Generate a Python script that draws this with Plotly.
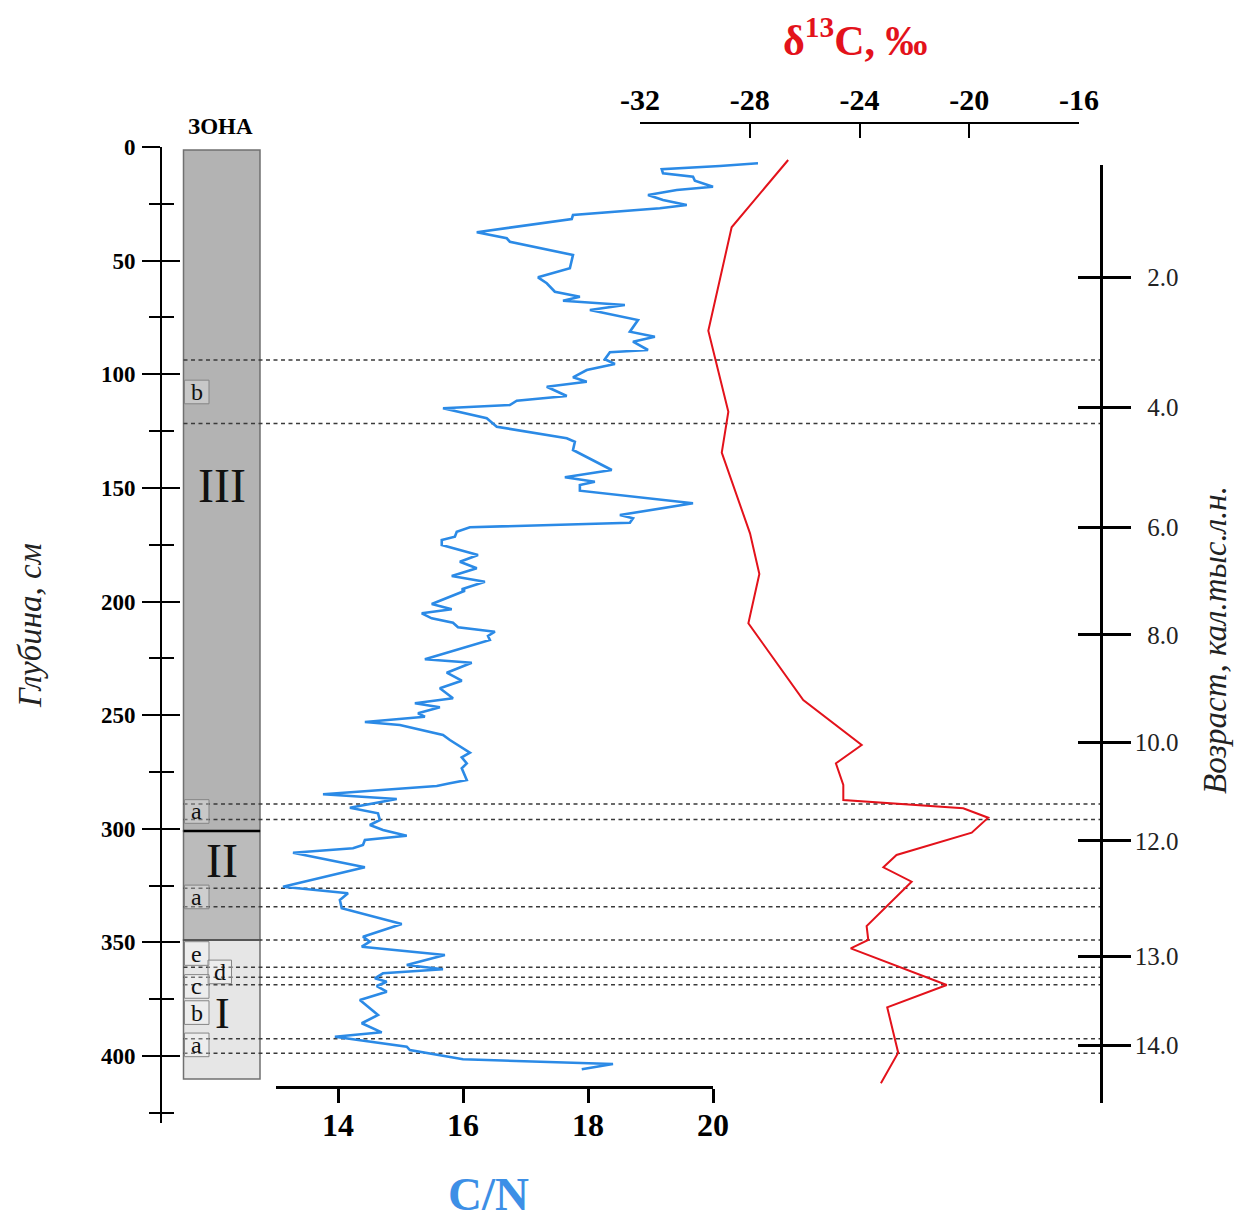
import plotly.graph_objects as go

W, H = 1247, 1220
SERIF = "Liberation Serif"

# ---------------- data ----------------
cn_depth = [7.17, 8.36, 9.81, 11.57, 13.07, 14.83, 17.47, 18.92, 21.12, 23.32, 25.52, 26.97,
            29.92, 31.68, 37.54, 40.18, 41.67, 47.52, 53.38, 57.34, 59.98, 63.67, 65.88, 67.64,
            69.53, 71.73, 76.13, 81.28, 83.48, 85.68, 89.33, 90.34, 93.42, 95.49, 98.13, 101.34,
            103.28, 105.48, 109.57, 111.64, 113.53, 114.98, 119.38, 123.08, 128.18, 129.68, 133.33,
            142.13, 145.35, 147.28, 148.73, 151.24, 156.79, 161.94, 163.39, 165.32, 167.35, 169.29,
            171.49, 172.94, 175.14, 179.54, 182.49, 185.39, 188.78, 191.29, 194.63, 195.25, 201.1,
            203.43, 205.19, 207.39, 209.33, 211.35, 213.29, 215.18, 216.94, 225.44, 226.93, 231.33,
            234.85, 238.2, 242.6, 244.8, 246.56, 249.2, 250.69, 253.03, 254.35, 258.75, 260.95,
            266.53, 268.56, 271.2, 273.4, 278.55, 280.0, 281.19, 284.84, 286.91, 290.74, 293.2,
            296.15, 298.35, 300.55, 303.06, 304.95, 307.15, 308.6, 310.54, 316.97, 325.5, 328.4,
            331.35, 335.0, 341.91, 347.5, 349.7, 351.9, 355.56, 359.96, 361.85, 363.61, 365.81,
            367.3, 369.2, 371.7, 375.36, 381.96, 385.6, 389.58, 391.5, 395.9, 397.4, 401.45,
            403.5, 405.85]
cn_value = [20.72, 20.11, 19.18, 19.20, 19.68, 19.71, 20.00, 19.42, 18.96, 19.20, 19.58, 19.15,
            17.76, 17.74, 16.22, 16.70, 16.75, 17.76, 17.71, 17.20, 17.34, 17.47, 17.87, 17.60,
            18.59, 18.03, 18.80, 18.67, 19.07, 18.72, 18.96, 18.35, 18.27, 18.43, 17.98, 17.76,
            17.98, 17.34, 17.66, 16.86, 16.75, 15.68, 16.38, 16.54, 17.66, 17.79, 17.76,
            18.38, 17.63, 18.11, 17.87, 17.87, 19.68, 18.51, 18.72, 18.67, 16.11, 15.90,
            15.87, 15.66, 15.66, 16.24, 15.95, 16.22, 15.82, 16.35, 15.98, 16.03, 15.50,
            15.82, 15.34, 15.50, 15.84, 15.92, 16.51, 16.40, 16.43, 15.39, 16.14, 15.74,
            15.98, 15.63, 15.84, 15.23, 15.63, 15.28, 15.39, 14.43, 14.99, 15.68, 15.79,
            16.11, 15.98, 16.06, 15.98, 16.06, 15.79, 15.58, 13.76, 14.94, 14.19, 14.64,
            14.67, 14.51, 14.72, 15.10, 14.43, 14.40, 14.24, 13.28, 14.43, 13.12, 14.16,
            14.03, 14.06, 15.02, 14.40, 14.51, 14.38, 15.71, 15.10, 15.68, 14.72, 14.59,
            14.78, 14.62, 14.78, 14.35, 14.64, 14.38, 14.70, 13.95, 15.10, 15.15, 16.00,
            18.40, 17.90]

d13c_depth = [5.72, 35.34, 80.84, 116.48, 134.52, 170.0, 187.9, 209.6, 243.34, 263.15, 271.2,
              280.75, 287.35, 291.0, 295.14, 301.74, 311.55, 316.97, 323.3, 342.8, 348.96,
              352.61, 368.76, 378.57, 398.55, 412.0]
d13c_value = [-26.60, -28.66, -29.51, -28.78, -29.02, -27.99, -27.65, -28.05, -26.05, -23.92, -24.86,
              -24.59, -24.59, -20.22, -19.31, -19.91, -22.65, -23.13, -22.10, -23.74, -23.68,
              -24.32, -20.82, -22.99, -22.59, -23.22]

depth_ticks = [0, 50, 100, 150, 200, 250, 300, 350, 400]
depth_minor = [25, 75, 125, 175, 225, 275, 325, 375, 425]
cn_ticks = [14, 16, 18, 20]
d13c_ticks = [-32, -28, -24, -20, -16]
age_ticks = [2.0, 4.0, 6.0, 8.0, 10.0, 12.0, 13.0, 14.0]
age_tick_depth = [57.4, 114.6, 167.4, 214.7, 261.9, 305.3, 356.2, 395.2]

boundary_depths = [93.7, 121.7, 289.1, 295.9, 326.2, 334.3, 349.0, 361.0, 365.4, 368.7, 392.4, 398.8]

zone_names = ["III", "II", "I"]
zone_top = [1.3, 301.0, 349.0]
zone_bottom = [301.0, 349.0, 410.1]
zone_colors = ["#b3b3b3", "#bbbbbb", "#e6e6e6"]
zone_label_depth = [149.0, 313.8, 381.5]
zone_label_size = [48, 48, 44]

subzone_labels = ["b", "a", "a", "e", "d", "c", "b", "a"]
subzone_depth = [107.8, 292.4, 330.0, 354.9, 363.0, 369.4, 380.9, 395.1]
subzone_col = [0, 0, 0, 0, 1, 0, 0, 0]

# ---------------- geometry helpers (page pixels -> paper) ----------------
OFF = 8  # page offset of the figure div

def px(x):
    return (x - OFF) / W

def py(y):
    return 1 - (y - OFF) / H

Y0, K = 147.0, 2.2725          # page pixel of depth 0, pixels per cm
def dep(ypix):
    return (ypix - Y0) / K

CN0_PX, CN_K = 275.5, 62.5     # page pixel of C/N = 13, pixels per unit

fig = go.Figure()

fig.add_trace(go.Scatter(x=cn_value, y=cn_depth, mode="lines", xaxis="x", yaxis="y",
                         line=dict(color="#2b8ae6", width=2.6), showlegend=False, hoverinfo="skip"))
fig.add_trace(go.Scatter(x=d13c_value, y=d13c_depth, mode="lines", xaxis="x2", yaxis="y",
                         line=dict(color="#e3121b", width=2), showlegend=False, hoverinfo="skip"))
for xa, ya in [("x3", "y"), ("x", "y4"), ("x", "y3"), ("x", "y5")]:
    fig.add_trace(go.Scatter(x=[None], y=[None], xaxis=xa, yaxis=ya, mode="lines",
                             showlegend=False, hoverinfo="skip"))

depth_range = [dep(1123), 0]
age_range = [dep(1103), dep(165)]

tick_bold = dict(family=SERIF, size=23, color="black", weight="bold")

age_text = []
for a in age_ticks:
    s = f"{a:.1f}"
    if len(s) < 4:
        s = "\u2007" + s
    age_text.append(s)

fig.update_layout(
    width=W, height=H,
    margin=dict(l=0, r=0, t=0, b=0, pad=0),
    paper_bgcolor="white", plot_bgcolor="rgba(0,0,0,0)",
    showlegend=False,
    xaxis=dict(domain=[0, 1],
               range=[13 - (CN0_PX - OFF) / CN_K, 13 + (W + OFF - CN0_PX) / CN_K],
               visible=False, anchor="free", position=0, automargin=False),
    xaxis3=dict(domain=[px(CN0_PX), px(713)], range=[13, 20], anchor="free", position=py(1087),
                tickvals=cn_ticks, ticks="outside", ticklen=14, tickwidth=2.5, tickcolor="black",
                showline=True, linewidth=3, linecolor="black", showgrid=False, zeroline=False,
                automargin=False, ticklabelstandoff=-5,
                tickfont=dict(family=SERIF, size=32, color="black", weight="bold")),
    xaxis2=dict(domain=[px(640), px(1079)], range=[-32, -16], side="top", anchor="free",
                position=py(123), tickvals=d13c_ticks, ticktext=[str(v) for v in d13c_ticks],
                ticks="inside", ticklen=14, tickwidth=2,
                tickcolor="black", showline=True, linewidth=2, linecolor="black",
                showgrid=False, zeroline=False, automargin=False,
                tickfont=dict(family=SERIF, size=30, color="black", weight="bold")),
    yaxis=dict(domain=[py(1123), py(147)], range=depth_range, anchor="free", position=px(161),
               tickvals=depth_ticks, ticks="outside", ticklen=18, tickwidth=2, tickcolor="black",
               minor=dict(tickvals=depth_minor, ticks="outside", ticklen=11, tickwidth=2,
                          tickcolor="black"),
               showline=True, linewidth=2, linecolor="black", showgrid=False, zeroline=False,
               automargin=False, tickfont=tick_bold, ticklabelstandoff=2),
    yaxis4=dict(overlaying="y", range=depth_range, anchor="free", position=px(161), side="left",
                tickvals=depth_ticks, ticks="inside", ticklen=18, tickwidth=2, tickcolor="black",
                minor=dict(tickvals=depth_minor, ticks="inside", ticklen=12, tickwidth=2,
                           tickcolor="black"),
                showticklabels=False, showline=False, showgrid=False, zeroline=False,
                automargin=False),
    yaxis3=dict(domain=[py(1103), py(165)], range=age_range, anchor="free", position=px(1101),
                side="right", tickvals=age_tick_depth, ticktext=age_text, ticks="outside",
                ticklen=28, tickwidth=2.5, tickcolor="black", showline=True, linewidth=2.5,
                linecolor="black", showgrid=False, zeroline=False, automargin=False,
                tickfont=dict(family=SERIF, size=25, color="#222222"), ticklabelstandoff=-1),
    yaxis5=dict(overlaying="y3", range=age_range, anchor="free", position=px(1101), side="right",
                tickvals=age_tick_depth, ticks="inside", ticklen=23, tickwidth=2.5,
                tickcolor="black", showticklabels=False, showline=False, showgrid=False,
                zeroline=False, automargin=False),
)

shapes = []
for top, bot, col in zip(zone_top, zone_bottom, zone_colors):
    shapes.append(dict(type="rect", xref="paper", yref="y", x0=px(183.5), x1=px(260),
                       y0=top, y1=bot, fillcolor=col, line=dict(color="#707070", width=1.5),
                       layer="below"))
for d in boundary_depths:
    shapes.append(dict(type="line", xref="paper", yref="y", x0=px(183.5), x1=px(1103),
                       y0=d, y1=d, line=dict(color="#3a3a3a", width=1.5, dash="4px,3.5px"),
                       layer="below"))
shapes.append(dict(type="line", xref="paper", yref="y", x0=px(183.5), x1=px(260),
                   y0=zone_bottom[0], y1=zone_bottom[0], line=dict(color="black", width=2.5),
                   layer="below"))
shapes.append(dict(type="line", xref="paper", yref="y", x0=px(183.5), x1=px(260),
                   y0=zone_bottom[1], y1=zone_bottom[1], line=dict(color="#555555", width=2),
                   layer="below"))
box_x = [(184.5, 209), (208, 231.5)]
for lab, d, c in zip(subzone_labels, subzone_depth, subzone_col):
    x0, x1 = box_x[c]
    shapes.append(dict(type="rect", xref="paper", yref="y", x0=px(x0), x1=px(x1),
                       y0=d - 5.2, y1=d + 5.2, fillcolor="rgba(255,255,255,0.28)",
                       line=dict(color="#858585", width=1), layer="below"))
fig.update_layout(shapes=shapes)

ann = []
for lab, d, c in zip(subzone_labels, subzone_depth, subzone_col):
    x0, x1 = box_x[c]
    ann.append(dict(text=lab, xref="paper", yref="y", x=px((x0 + x1) / 2), y=d,
                    showarrow=False, font=dict(family=SERIF, size=24, color="#111111"),
                    xanchor="center", yanchor="middle"))
for name, d, s in zip(zone_names, zone_label_depth, zone_label_size):
    ann.append(dict(text=name, xref="paper", yref="y", x=px(222), y=d, showarrow=False,
                    font=dict(family=SERIF, size=s, color="#111111"),
                    xanchor="center", yanchor="middle"))
ann.append(dict(text="<b>ЗОНА</b>", xref="paper", yref="paper", x=px(220), y=py(126),
                showarrow=False, font=dict(family=SERIF, size=23, color="black"),
                xanchor="center", yanchor="middle"))
ann.append(dict(text="<i>Глубина, см</i>", xref="paper", yref="paper", x=px(30), y=py(626),
                showarrow=False, textangle=-90, font=dict(family=SERIF, size=33, color="#222222"),
                xanchor="center", yanchor="middle"))
ann.append(dict(text="<i>Возраст, кал.тыс.л.н.</i>", xref="paper", yref="paper", x=px(1215),
                y=py(640), showarrow=False, textangle=-90,
                font=dict(family=SERIF, size=33, color="#222222"),
                xanchor="center", yanchor="middle"))
ann.append(dict(text="<b>C/N</b>", xref="paper", yref="paper", x=px(488), y=py(1194),
                showarrow=False, font=dict(family=SERIF, size=47, color="#3d8fe6"),
                xanchor="center", yanchor="middle"))
ann.append(dict(text="<b>δ<sup>13</sup>C, ‰</b>", xref="paper", yref="paper", x=px(855),
                y=py(37), showarrow=False, font=dict(family=SERIF, size=42, color="#e3121b"),
                xanchor="center", yanchor="middle"))
fig.update_layout(annotations=ann)

fig.write_html("out.html")
